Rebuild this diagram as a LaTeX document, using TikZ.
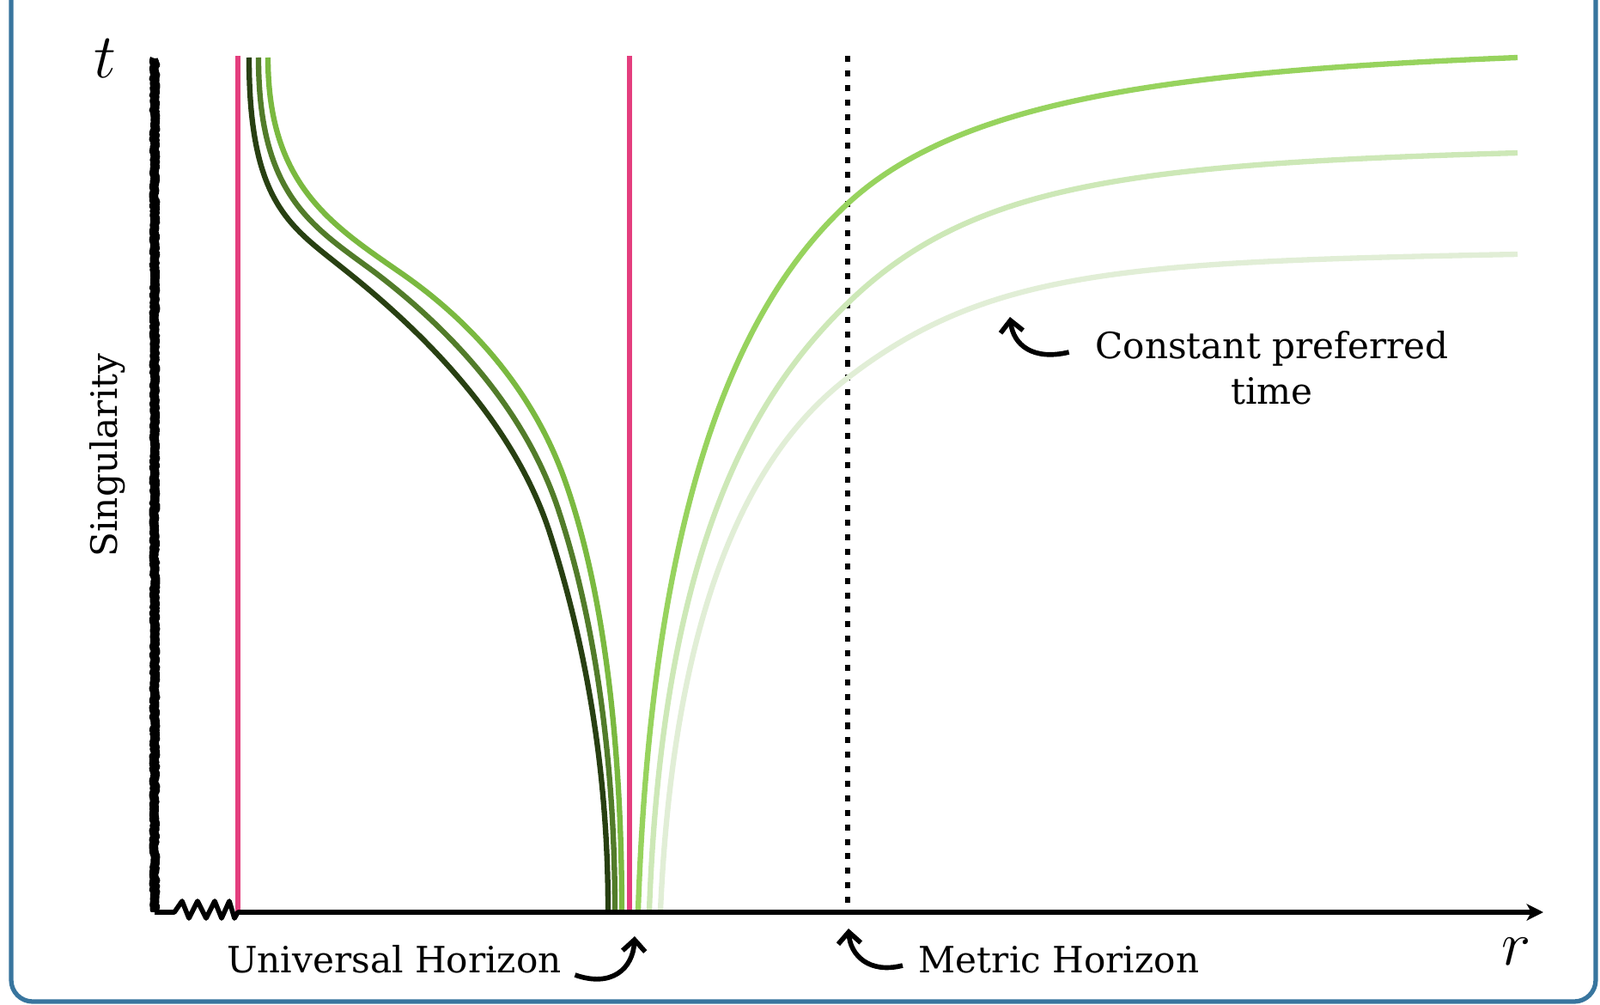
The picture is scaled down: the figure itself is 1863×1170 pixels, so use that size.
\documentclass[tikz,border=0pt]{standalone}
\usepackage{fontspec}
\setmainfont{DejaVu Serif}
\usetikzlibrary{arrows.meta, decorations.pathmorphing}

\definecolor{frameblue}{RGB}{56,117,158}
\definecolor{uhpink}{RGB}{228,62,126}
\definecolor{leafdark}{RGB}{40,64,18}
\definecolor{leafmid}{RGB}{82,124,42}
\definecolor{leaflight}{RGB}{122,185,64}
\definecolor{leafbright}{RGB}{151,211,94}
\definecolor{leafpale}{RGB}{205,232,183}
\definecolor{leaffaint}{RGB}{225,238,214}

\begin{document}
\begin{tikzpicture}[
    x=0.01cm, y=-0.01cm,
    frame_line/.style={draw=frameblue, line width=1.5pt, rounded corners=0.25cm},
    axis_line/.style={line width=1.6pt, line join=round},
    sing_line/.style={line width=3pt, line join=round, decorate, decoration={random steps, segment length=0.6pt, amplitude=0.35pt}},
    uh_line/.style={draw=uhpink, line width=1.8pt},
    mh_line/.style={line width=1.9pt, dash pattern=on 2pt off 2.8pt},
    leaf/.style={line width=1.8pt},
    note_text/.style={font=\fontsize{12}{15}\selectfont, text=black, inner sep=0pt, align=center},
    note_arrow/.style={line width=1.6pt, -{Straight Barb[length=3.8pt, width=7.5pt]}},
    axis_label/.style={font=\fontsize{20}{24}\selectfont, inner sep=0pt}
]
    \useasboundingbox (0,0) rectangle (1863,1170);

    % ================= FRAME =================
    \draw[frame_line] (13,0) -- (13,1166) -- (1858,1166) -- (1858,0);

    % ================= HORIZONS =================
    \draw[uh_line] (277,65) -- (277,1062);
    \draw[uh_line] (733,65) -- (733,1062);
    \draw[mh_line] (987,65) -- (987,1062);

    % ================= LEAVES INSIDE =================
    \draw[leaf, leafdark] (290,67) .. controls (290,237) and (338,263) .. (400,313)
        .. controls (525,412) and (606,515) .. (640,620)
        .. controls (686,763) and (708,910) .. (708,1060);
    \draw[leaf, leafmid] (301,67) .. controls (301,227) and (363,263) .. (435,316)
        .. controls (542,397) and (615,490) .. (649,590)
        .. controls (698,736) and (716,910) .. (716,1060);
    \draw[leaf, leaflight] (312,67) .. controls (312,217) and (388,263) .. (470,320)
        .. controls (560,383) and (625,466) .. (658,560)
        .. controls (711,710) and (724,910) .. (724,1060);

    % ================= LEAVES OUTSIDE =================
    \draw[leaf, leafbright] (743,1060) .. controls (760,560) and (870,345) .. (987,237)
        .. controls (1119,115) and (1367,83) .. (1767,67);
    \draw[leaf, leafpale] (756,1060) .. controls (772,620) and (886,451) .. (987,353)
        .. controls (1131,213) and (1317,191) .. (1767,178);
    \draw[leaf, leaffaint] (769,1060) .. controls (785,700) and (876,525) .. (987,440)
        .. controls (1153,312) and (1317,305) .. (1767,296);

    % ================= AXES =================
    \coordinate (origin) at (180,1062);
    \coordinate (t_top) at (180,68);
    \coordinate (r_end) at (1797,1062);

    \draw[axis_line, -{Stealth[length=5.5pt, width=5.5pt, inset=1.5pt]}] (origin) -- (203,1062) -- (212,1049) -- (220,1069) -- (230,1049) -- (240,1069) -- (250,1049) -- (258,1069) -- (267,1049) -- (273,1069) -- (277,1062) -- (r_end);
    \draw[sing_line] (origin) -- (t_top);
    \draw[sing_line, line width=2.2pt] (origin) -- (t_top);

    \node[axis_label] (t_label) at (122,68) {$t$};
    \node[axis_label] (r_label) at (1766,1108) {$r$};

    % ================= LABELS =================
    \node[note_text, rotate=90] (sing_label) at (125,530) {Singularity};
    \node[note_text] (uh_label) at (459,1117) {Universal Horizon};
    \node[note_text] (mh_label) at (1233,1117) {Metric Horizon};
    \node[note_text] (cpt_label) at (1481,428) {Constant preferred\\time};

    \coordinate (uh_tail) at ([xshift=0.15cm, yshift=-0.18cm]uh_label.east);
    \coordinate (uh_tip) at (739,1090);
    \coordinate (mh_tail) at ([xshift=-0.18cm, yshift=-0.07cm]mh_label.west);
    \coordinate (mh_tip) at (988,1081);
    \coordinate (cpt_tail) at ([xshift=-0.30cm, yshift=0.18cm]cpt_label.west);
    \coordinate (cpt_tip) at (1176,369);

    \draw[note_arrow] (uh_tail) .. controls (712,1150) and (737,1128) .. (uh_tip);
    \draw[note_arrow] (mh_tail) .. controls (1012,1134) and (990,1112) .. (mh_tip);
    \draw[note_arrow] (cpt_tail) .. controls (1203,420) and (1180,402) .. (cpt_tip);

\end{tikzpicture}
\end{document}
